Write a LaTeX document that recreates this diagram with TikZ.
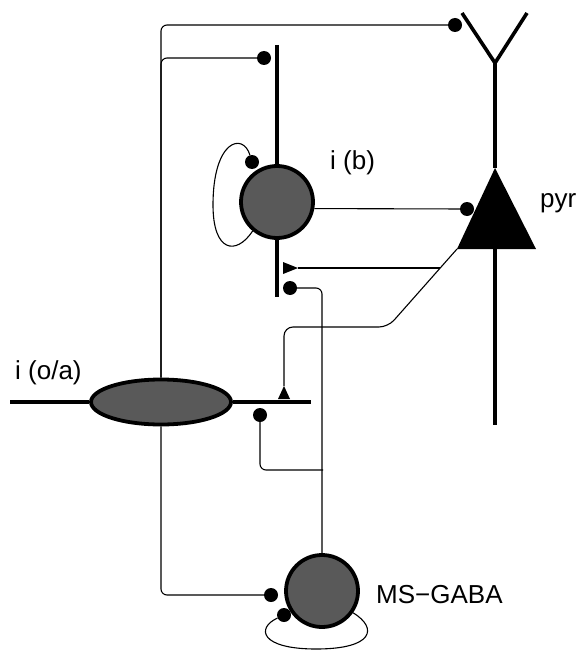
\documentclass[tikz,border=0pt]{standalone}
\usepackage{fontspec}
\setmainfont{Liberation Sans}
\usetikzlibrary{shapes.geometric}
\begin{document}
\begin{tikzpicture}[x=1pt,y=-1pt,
  conn/.style={line width=1.1pt, rounded corners=6pt},
  thickline/.style={line width=3.6pt},
  cell/.style={circle, draw, line width=3.8pt, fill=black!65, minimum size=72pt, inner sep=0pt},
  oacell/.style={ellipse, draw, line width=3.8pt, fill=black!65, minimum width=140pt, minimum height=45pt, inner sep=0pt},
  syn/.style={circle, fill=black, minimum size=14pt, inner sep=0pt},
  lbl/.style={font=\fontsize{26}{31}\selectfont, inner sep=0pt}]
\useasboundingbox (0,0) rectangle (576,650);
% cells
\node[cell] (ib) at (277,202) {};
\node[cell] (ms) at (322,591) {};
\node[oacell] (oa) at (161,402) {};
% pyramidal cell
\coordinate (apex) at (495,168);
\coordinate (pl) at (457,249);
\coordinate (pr) at (536,249);
\coordinate (pb) at (495,249);
\coordinate (fork) at (495,63);
\coordinate (yl) at (462,13);
\coordinate (yr) at (527,13);
\coordinate (pend) at (495,425);
\fill (apex) -- (pl) -- (pr) -- cycle;
\draw[thickline] (yl) -- (fork) -- (yr);
\draw[thickline] (fork) -- (apex);
\draw[thickline] (pb) -- (pend);
% dendrites / axons
\coordinate (ibtop) at (277,45);
\coordinate (ibbot) at (277,297);
\draw[thickline] (ibtop) -- (ib.north);
\draw[thickline] (ib.south) -- (ibbot);
\coordinate (axl) at (10,402);
\coordinate (axr) at (311,402);
\draw[thickline] (axl) -- (oa.west);
\draw[thickline] (oa.east) -- (axr);
% synapse dots
\node[syn] (d1) at (455,25) {};
\node[syn] (d2) at (264,58) {};
\node[syn] (d3) at (271,595) {};
\node[syn] (d4) at (467,209) {};
\node[syn] (d5) at (290,288) {};
\node[syn] (d6) at (260,415) {};
\node[syn] (d7) at (284,615) {};
\node[syn] (d8) at (252,162) {};
% excitatory synapses (triangles)
\coordinate (t1) at (298,268);
\coordinate (t2) at (284,386);
\fill (283,262) -- (t1) -- (283,274) -- cycle;
\fill (278,399) -- (t2) -- (290,399) -- cycle;
% connectors
\draw[conn] (oa.north) |- (d1);
\draw[conn] (oa.north) |- (d2);
\draw[conn] (oa.south) |- (d3);
\draw[conn] (ib.-10) -- (d4);
\coordinate (bend) at (388,327);
\coordinate (br) at (440,268);
\draw[conn, rounded corners=9pt] (pl) -- (bend) -| (t2);
\draw[conn] (br) -- (t1);
\coordinate (msv) at (323,470);
\draw[conn] (d5) -| (ms.north);
\draw[conn] (d6) |- (msv);
% self loops
\draw[line width=1.1pt] (ib.230) .. controls (236,256) and (213,252) .. (213,205)
  .. controls (213,140) and (243,132) .. (d8);
\draw[line width=1.1pt] (d7) .. controls (256,628) and (260,649) .. (316,649)
  .. controls (374,649) and (378,628) .. (ms.-35);
% labels
\node[lbl, anchor=base west] (lib) at (330,169) {i (b)};
\node[lbl, anchor=base west] (lpyr) at (540,207) {pyr};
\node[lbl, anchor=base west] (loa) at (15,379) {i (o/a)};
\node[lbl, anchor=base west] (lms) at (376,603) {MS−GABA};
\end{tikzpicture}
\end{document}
